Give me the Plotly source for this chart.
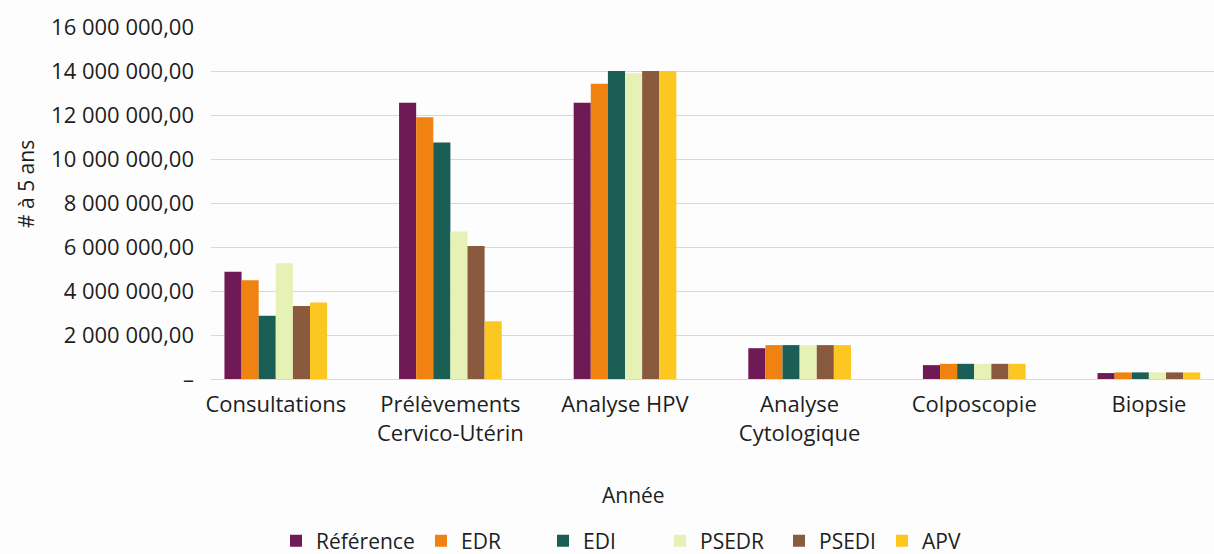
import plotly.graph_objects as go

categories = ["Consultations", "Prélèvements<br>Cervico-Utérin", "Analyse HPV",
              "Analyse<br>Cytologique", "Colposcopie", "Biopsie"]

reference = [4.87e6, 12.56e6, 12.56e6, 1.40e6, 0.63e6, 0.27e6]
edr       = [4.49e6, 11.90e6, 13.42e6, 1.54e6, 0.69e6, 0.30e6]
edi       = [2.88e6, 10.75e6, 14.00e6, 1.54e6, 0.69e6, 0.30e6]
psedr     = [5.26e6,  6.71e6, 13.90e6, 1.54e6, 0.69e6, 0.30e6]
psedi     = [3.32e6,  6.05e6, 14.00e6, 1.54e6, 0.69e6, 0.30e6]
apv       = [3.48e6,  2.62e6, 14.00e6, 1.54e6, 0.69e6, 0.30e6]

series_names = ["Référence", "EDR", "EDI", "PSEDR", "PSEDI", "APV"]
series_values = [reference, edr, edi, psedr, psedi, apv]
colors = ["#6f1a55", "#f08212", "#1b5e55", "#e5f1b5", "#8a5a3f", "#fbc720"]

tick_vals = [0, 2e6, 4e6, 6e6, 8e6, 10e6, 12e6, 14e6, 16e6]
tick_text = ["–", "2 000 000,00", "4 000 000,00", "6 000 000,00", "8 000 000,00",
             "10 000 000,00", "12 000 000,00", "14 000 000,00", "16 000 000,00"]

legend_px = [298, 443, 565, 682, 801, 904]

FONT = "Open Sans"
TXT = "#1e1e1e"
W, H = 1214, 554
plot_l, plot_t, plot_b = 211, 27, 175
plot_w, plot_h = W - plot_l, H - plot_t - plot_b

fig = go.Figure()
for i, (name, vals, col) in enumerate(zip(series_names, series_values, colors)):
    lg = "legend" if i == 0 else f"legend{i+1}"
    fig.add_trace(go.Bar(x=categories, y=vals, name=name, marker_color=col,
                         marker_line_width=0, legend=lg, showlegend=True))

layout_legends = {}
for i, px in enumerate(legend_px):
    key = "legend" if i == 0 else f"legend{i+1}"
    layout_legends[key] = dict(
        x=(px - 22) / W, xref="container", xanchor="left",
        y=1 - 541 / H, yref="container", yanchor="middle",
        orientation="h", bgcolor="rgba(0,0,0,0)",
        font=dict(family=FONT, size=21, color=TXT),
        itemclick=False, itemdoubleclick=False,
    )

fig.update_layout(
    width=W, height=H, showlegend=True,
    margin=dict(l=plot_l, r=0, t=plot_t, b=plot_b, autoexpand=False),
    paper_bgcolor="#fdfdfd", plot_bgcolor="#fdfdfd",
    barmode="group", bargap=0.412, bargroupgap=0,
    font=dict(family=FONT, size=22, color=TXT),
    **layout_legends,
)

fig.update_xaxes(
    range=[-0.371, 5.373], showgrid=False, showline=False, zeroline=False,
    ticks="", tickfont=dict(size=22, color=TXT), ticklabelstandoff=10,
)
fig.update_yaxes(
    range=[0, 16e6], tickvals=tick_vals, ticktext=tick_text,
    showgrid=True, gridcolor="#d9d9d9", gridwidth=1,
    zeroline=True, zerolinecolor="#d9d9d9", zerolinewidth=1,
    showline=False, ticks="", tickfont=dict(size=22, color=TXT),
    ticklabelstandoff=16,
)

anns = []
for text, px, py, ang in [("# à 5 ans", 26, 184, -90), ("Année", 633, 495, 0)]:
    anns.append(dict(text=text, textangle=ang, showarrow=False,
                     x=(px - plot_l) / plot_w, y=1 - (py - plot_t) / plot_h,
                     xref="paper", yref="paper", xanchor="center", yanchor="middle",
                     font=dict(family=FONT, size=21, color=TXT)))
fig.update_layout(annotations=anns)

fig.write_html("out.html", config={"displayModeBar": False},
               post_script="document.body.style.margin='0';document.body.style.overflow='hidden';")
